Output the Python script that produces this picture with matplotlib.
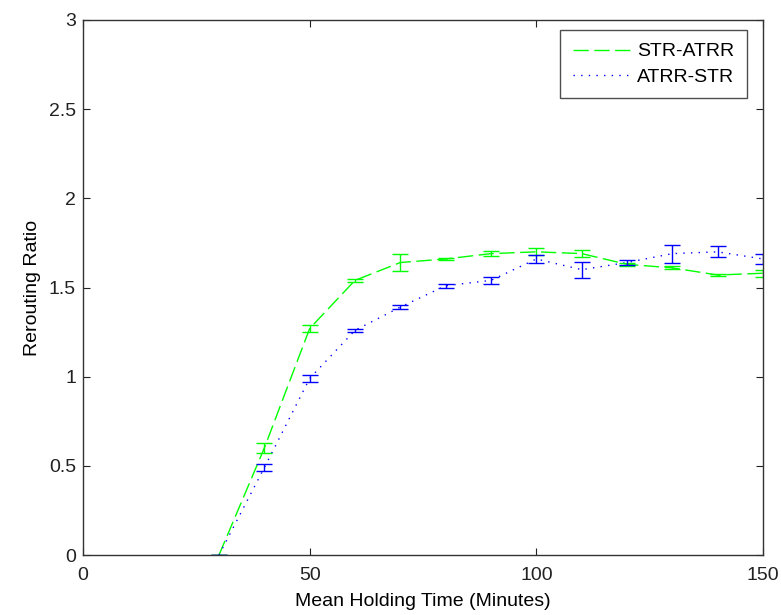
import numpy as np
import matplotlib.pyplot as plt

# data
holding_time = [30, 40, 50, 60, 70, 80, 90, 100, 110, 120, 130, 140, 150]

str_atrr = [0.0, 0.60, 1.27, 1.54, 1.64, 1.66, 1.69, 1.70, 1.69, 1.63, 1.61, 1.57, 1.58]
str_atrr_err = [0.0, 0.03, 0.02, 0.01, 0.05, 0.008, 0.015, 0.02, 0.02, 0.01, 0.008, 0.005, 0.02]

atrr_str = [0.0, 0.49, 0.99, 1.26, 1.39, 1.51, 1.54, 1.66, 1.60, 1.64, 1.69, 1.70, 1.66]
atrr_str_err = [0.0, 0.02, 0.02, 0.01, 0.01, 0.01, 0.02, 0.02, 0.045, 0.015, 0.05, 0.03, 0.03]

plt.rcParams["font.family"] = ["Liberation Sans", "DejaVu Sans"]

GREEN = "#00FF00"
BLUE = "#0000FF"

fig = plt.figure(figsize=(7.81, 6.15), dpi=100)
ax = fig.add_axes([83 / 781, 1 - 555 / 615, 680 / 781, 535 / 615])

# lines (used for the legend)
ax.plot(holding_time, str_atrr, color=GREEN, linestyle=(0, (11, 4)),
        linewidth=1.0, label="STR-ATRR")
ax.plot(holding_time, atrr_str, color=BLUE, linestyle=(0, (1, 4.5)),
        linewidth=1.0, label="ATRR-STR")

# error bars
for y, e, c in [(str_atrr, str_atrr_err, GREEN), (atrr_str, atrr_str_err, BLUE)]:
    ax.errorbar(holding_time, y, yerr=e, fmt="none", ecolor=c,
                capsize=5.5, elinewidth=1.0, capthick=1.0)

ax.set_xlim(0, 150)
ax.set_ylim(0, 3)
ax.set_xticks([0, 50, 100, 150])
ax.set_yticks([0, 0.5, 1, 1.5, 2, 2.5, 3])
ax.set_yticklabels(["0", "0.5", "1", "1.5", "2", "2.5", "3"])
ax.tick_params(direction="in", top=True, right=True, labelsize=14,
               length=5, width=0.8, colors="#222222")
ax.tick_params(axis="x", pad=9)
ax.tick_params(axis="y", pad=5)
for sp in ax.spines.values():
    sp.set_color("#333333")
    sp.set_linewidth(1.0)

ax.set_xlabel("Mean Holding Time (Minutes)", fontsize=14, labelpad=6)
ax.set_ylabel("Rerouting Ratio", fontsize=14, labelpad=6)

leg = ax.legend(loc="upper right", fontsize=14, frameon=True, fancybox=False,
                handlelength=3.0, handletextpad=0.3, borderpad=0.65,
                labelspacing=0.4, borderaxespad=0,
                bbox_to_anchor=(0.976, 0.981))
leg.get_frame().set_edgecolor("#222222")
leg.get_frame().set_linewidth(1.0)

fig.savefig("out.png", dpi=100)
